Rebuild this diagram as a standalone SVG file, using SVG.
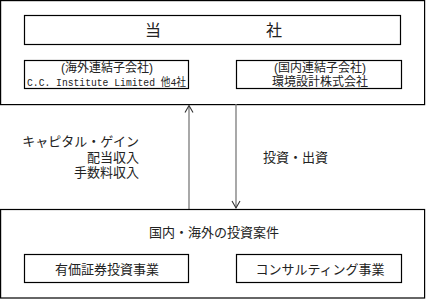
<svg xmlns="http://www.w3.org/2000/svg" width="426" height="299" viewBox="0 0 426 299">
<style>
.box{fill:none;stroke:#000;stroke-width:1.2}
.t{font-family:"Liberation Sans","Noto Sans CJK JP",sans-serif;fill:#222;font-size:13px}
.s{font-size:12px}
.c{text-anchor:middle}
.r{text-anchor:end}
.mono{font-family:"Liberation Mono","Noto Sans CJK JP",monospace;font-size:11px;fill:#222}
.arr{stroke:#7a7a7a;stroke-width:1.3;fill:none}
</style>
<defs>
<marker id="ah" markerWidth="10" markerHeight="10" refX="8" refY="5" orient="auto" markerUnits="userSpaceOnUse">
<path d="M1,1 L8,5 L1,9" fill="none" stroke="#333" stroke-width="1.1"/>
</marker>
</defs>
<rect width="426" height="299" fill="#fff"/>
<g id="company">
<rect class="box" x="0.6" y="0.6" width="424" height="104"/>
<g id="hq">
<rect class="box" x="24.5" y="15.5" width="376" height="29"/>
<text class="t" style="font-size:16px" y="36"><tspan x="145">当</tspan><tspan x="266">社</tspan></text>
</g>
<g id="overseas">
<rect class="box" x="24.5" y="60.5" width="164" height="28"/>
<text class="t s c" x="107" y="72">(海外連結子会社)</text>
<text class="mono" x="27" y="86" textLength="159" lengthAdjust="spacingAndGlyphs">C.C. Institute Limited 他4社</text>
</g>
<g id="domestic">
<rect class="box" x="236.5" y="60.5" width="165" height="28"/>
<text class="t s c" x="320" y="72">(国内連結子会社)</text>
<text class="t s c" x="320" y="86">環境設計株式会社</text>
</g>
</g>
<g id="connectors">
<line class="arr" x1="189" y1="209" x2="189" y2="105.5" marker-end="url(#ah)"/>
<line class="arr" x1="236" y1="104" x2="236" y2="208" marker-end="url(#ah)"/>
</g>
<g id="labels">
<text class="t r" x="139" y="146">キャピタル・ゲイン</text>
<text class="t r" x="139" y="162">配当収入</text>
<text class="t r" x="139" y="177">手数料収入</text>
<text class="t" x="263" y="162">投資・出資</text>
</g>
<g id="investments">
<rect class="box" x="0.6" y="209.5" width="424" height="88.5"/>
<text class="t c" x="214" y="237">国内・海外の投資案件</text>
<g id="securities">
<rect class="box" x="24.5" y="254.5" width="164" height="28"/>
<text class="t c" x="107" y="274">有価証券投資事業</text>
</g>
<g id="consulting">
<rect class="box" x="236.5" y="254.5" width="165" height="28"/>
<text class="t c" x="320" y="274">コンサルティング事業</text>
</g>
</g>
</svg>
